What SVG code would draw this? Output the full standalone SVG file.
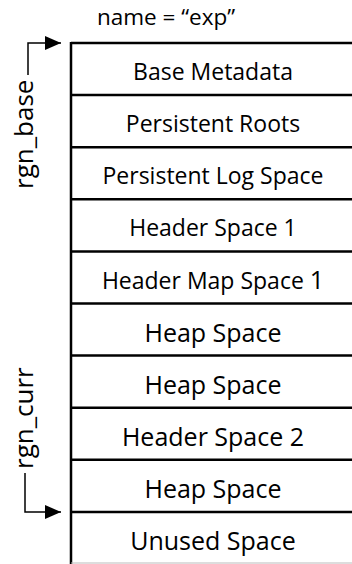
<svg xmlns="http://www.w3.org/2000/svg" width="352" height="564" viewBox="0 0 352 564">
<style>
  text { font-family: "Open Sans", "Liberation Sans", sans-serif; fill: #000; }
  .sm { font-size: 23px; text-anchor: middle; }
  .lg { font-size: 25px; text-anchor: middle; }
  .rot { font-size: 26px; }
  .sep { stroke: #000; stroke-width: 2.5; fill: none; }
  .conn { stroke: #000; stroke-width: 1.5; fill: none; }
</style>
<defs>
  <marker id="arr" viewBox="0 0 16 14" refX="16" refY="7" markerWidth="16" markerHeight="14" markerUnits="userSpaceOnUse" orient="auto">
    <path d="M0,0 L16,7 L0,14 Z" fill="#000"/>
  </marker>
</defs>
<text x="166" y="25" style="font-size:22.5px" text-anchor="middle">name = “exp”</text>
<g id="frame">
  <line class="sep" x1="71" y1="42" x2="71" y2="564"/>
  <line x1="71" y1="563" x2="352" y2="563" stroke="#bbb" stroke-width="1"/>
</g>
<g id="n1"><line class="sep" x1="71" y1="43" x2="352" y2="43"/><text class="sm" x="213" y="80">Base Metadata</text></g>
<g id="n2"><line class="sep" x1="71" y1="95.1" x2="352" y2="95.1"/><text class="sm" x="213" y="132">Persistent Roots</text></g>
<g id="n3"><line class="sep" x1="71" y1="147.2" x2="352" y2="147.2"/><text class="sm" x="213" y="184">Persistent Log Space</text></g>
<g id="n4"><line class="sep" x1="71" y1="199.3" x2="352" y2="199.3"/><text class="sm" x="213" y="236">Header Space 1</text></g>
<g id="n5"><line class="sep" x1="71" y1="251.4" x2="352" y2="251.4"/><text class="sm" x="213" y="289">Header Map Space <tspan style="font-size:25px">1</tspan></text></g>
<g id="n6"><line class="sep" x1="71" y1="303.5" x2="352" y2="303.5"/><text class="lg" x="213" y="342">Heap Space</text></g>
<g id="n7"><line class="sep" x1="71" y1="355.6" x2="352" y2="355.6"/><text class="lg" x="213" y="394">Heap Space</text></g>
<g id="n8"><line class="sep" x1="71" y1="407.7" x2="352" y2="407.7"/><text class="lg" x="213" y="446">Header Space 2</text></g>
<g id="n9"><line class="sep" x1="71" y1="459.8" x2="352" y2="459.8"/><text class="lg" x="213" y="498">Heap Space</text></g>
<g id="n10"><line class="sep" x1="71" y1="511.9" x2="352" y2="511.9"/><text class="lg" x="213" y="550">Unused Space</text></g>
<g id="rgn_base">
  <text class="rot" transform="translate(33,189) rotate(-90)">rgn_base</text>
</g>
<g id="rgn_curr">
  <text class="rot" transform="translate(33,469) rotate(-90)">rgn_curr</text>
</g>
<g id="connectors">
  <path class="conn" d="M28,75 V43 H61" marker-end="url(#arr)"/>
  <path class="conn" d="M25,473 V512 H61" marker-end="url(#arr)"/>
</g>
</svg>
